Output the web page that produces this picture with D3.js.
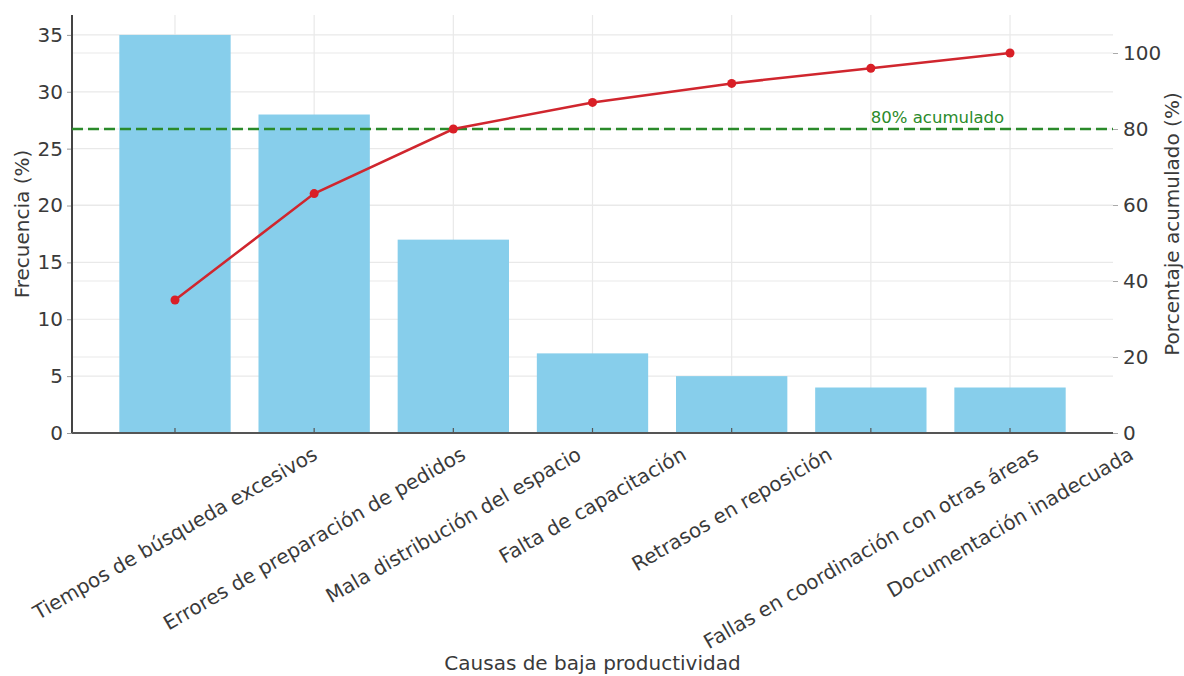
<!DOCTYPE html>
<html>
<head>
<meta charset="utf-8">
<script src="https://cdn.jsdelivr.net/npm/d3@7"></script>
<style>
  body { margin: 0; background: #fff; }
  svg text { font-family: "DejaVu Sans", sans-serif; fill: #3a3a3a; }
</style>
</head>
<body>
<svg id="chart" width="1184" height="676"></svg>
<script>
// causes of low productivity, sorted by frequency
const causes = [
  "Tiempos de búsqueda excesivos",
  "Errores de preparación de pedidos",
  "Mala distribución del espacio",
  "Falta de capacitación",
  "Retrasos en reposición",
  "Fallas en coordinación con otras áreas",
  "Documentación inadecuada"
];
const frequency = [35, 28, 17, 7, 5, 4, 4];
const cumulative = [35, 63, 80, 87, 92, 96, 100];
const leftTicks = [0, 5, 10, 15, 20, 25, 30, 35];
const rightTicks = [0, 20, 40, 60, 80, 100];
const threshold = 80;

const svg = d3.select('#chart');
const margin = { left: 72, right: 71, top: 15, bottom: 243 };
const width = 1184, height = 676;
const x0 = margin.left, x1 = width - margin.right;
const y0 = height - margin.bottom, y1 = margin.top;

// linear x to mimic matplotlib bar margins
const x = d3.scaleLinear().domain([-0.74, causes.length - 1 + 0.74]).range([x0, x1]);
const barW = x(0.4) - x(-0.4);
const yL = d3.scaleLinear().domain([0, 36.75]).range([y0, y1]);
const yR = d3.scaleLinear().domain([0, 110]).range([y0, y1]);

const grid = svg.append('g').attr('stroke', '#e9e9e9').attr('stroke-width', 1.2);
grid.selectAll('.gv').data(causes).join('line')
  .attr('x1', (d, i) => x(i)).attr('x2', (d, i) => x(i))
  .attr('y1', y1).attr('y2', y0);
grid.selectAll('.gl').data(leftTicks).join('line')
  .attr('x1', x0).attr('x2', x1)
  .attr('y1', d => yL(d)).attr('y2', d => yL(d));
grid.selectAll('.gr').data(rightTicks).join('line')
  .attr('x1', x0).attr('x2', x1)
  .attr('y1', d => yR(d)).attr('y2', d => yR(d));

// bars
svg.append('g').selectAll('rect').data(frequency).join('rect')
  .attr('x', (d, i) => x(i) - barW / 2)
  .attr('width', barW)
  .attr('y', d => yL(d))
  .attr('height', d => y0 - yL(d))
  .attr('fill', '#87CEEB');

// left axis
const axL = svg.append('g').attr('transform', `translate(${x0},0)`)
  .call(d3.axisLeft(yL).tickValues(leftTicks).tickSize(5).tickPadding(4));
axL.select('.domain').remove();
axL.selectAll('.tick line').attr('stroke', '#999');
axL.selectAll('text').attr('font-size', 20).attr('fill', '#3a3a3a');
svg.append('line').attr('x1', x0).attr('x2', x0).attr('y1', y1).attr('y2', y0)
  .attr('stroke', '#444').attr('stroke-width', 2);

// right axis
const axR = svg.append('g').attr('transform', `translate(${x1},0)`)
  .call(d3.axisRight(yR).tickValues(rightTicks).tickSize(5).tickPadding(5));
axR.select('.domain').remove();
axR.selectAll('.tick line').attr('stroke', '#aaa');
axR.selectAll('text').attr('font-size', 20).attr('fill', '#3a3a3a');

// bottom axis line + inward ticks
svg.append('line').attr('x1', x0).attr('x2', x1).attr('y1', y0).attr('y2', y0)
  .attr('stroke', '#555').attr('stroke-width', 2);
svg.append('g').selectAll('line').data(causes).join('line')
  .attr('x1', (d, i) => x(i)).attr('x2', (d, i) => x(i))
  .attr('y1', y0).attr('y2', y0 - 5)
  .attr('stroke', '#555').attr('stroke-width', 1.2);

// rotated category labels, bbox centred on tick
const fs = 20;
const labels = svg.append('g').selectAll('text').data(causes).join('text')
  .attr('font-size', fs)
  .attr('text-anchor', 'middle')
  .attr('dominant-baseline', 'central')
  .text(d => d);
labels.each(function (d, i) {
  const L = this.getComputedTextLength();
  const cy = 444 + L / 4 + fs * 0.95 * 0.433;
  d3.select(this).attr('transform', `translate(${x(i)},${cy}) rotate(-30)`);
});

// 80% threshold
svg.append('line')
  .attr('x1', x0).attr('x2', x1)
  .attr('y1', yR(threshold)).attr('y2', yR(threshold))
  .attr('stroke', '#2a8a2a').attr('stroke-width', 2.5)
  .attr('stroke-dasharray', '11,5');
svg.append('text')
  .attr('x', x(5)).attr('y', yR(81.5))
  .attr('font-size', 16.5)
  .style('fill', '#2a8a2a')
  .text('80% acumulado');

// cumulative line
const line = d3.line().x((d, i) => x(i)).y(d => yR(d));
svg.append('path').datum(cumulative)
  .attr('d', line)
  .attr('fill', 'none')
  .attr('stroke', '#d0262e')
  .attr('stroke-width', 2.5);
svg.append('g').selectAll('circle').data(cumulative).join('circle')
  .attr('cx', (d, i) => x(i))
  .attr('cy', d => yR(d))
  .attr('r', 4.5)
  .attr('fill', '#d91f26');

// axis titles
svg.append('text')
  .attr('transform', `translate(22,${(y0 + y1) / 2}) rotate(-90)`)
  .attr('text-anchor', 'middle').attr('dominant-baseline', 'central')
  .attr('font-size', 20)
  .text('Frecuencia (%)');
svg.append('text')
  .attr('transform', `translate(1172,${(y0 + y1) / 2}) rotate(-90)`)
  .attr('text-anchor', 'middle').attr('dominant-baseline', 'central')
  .attr('font-size', 20)
  .text('Porcentaje acumulado (%)');
svg.append('text')
  .attr('x', (x0 + x1) / 2).attr('y', 670)
  .attr('text-anchor', 'middle')
  .attr('font-size', 20)
  .text('Causas de baja productividad');
</script>
</body>
</html>
